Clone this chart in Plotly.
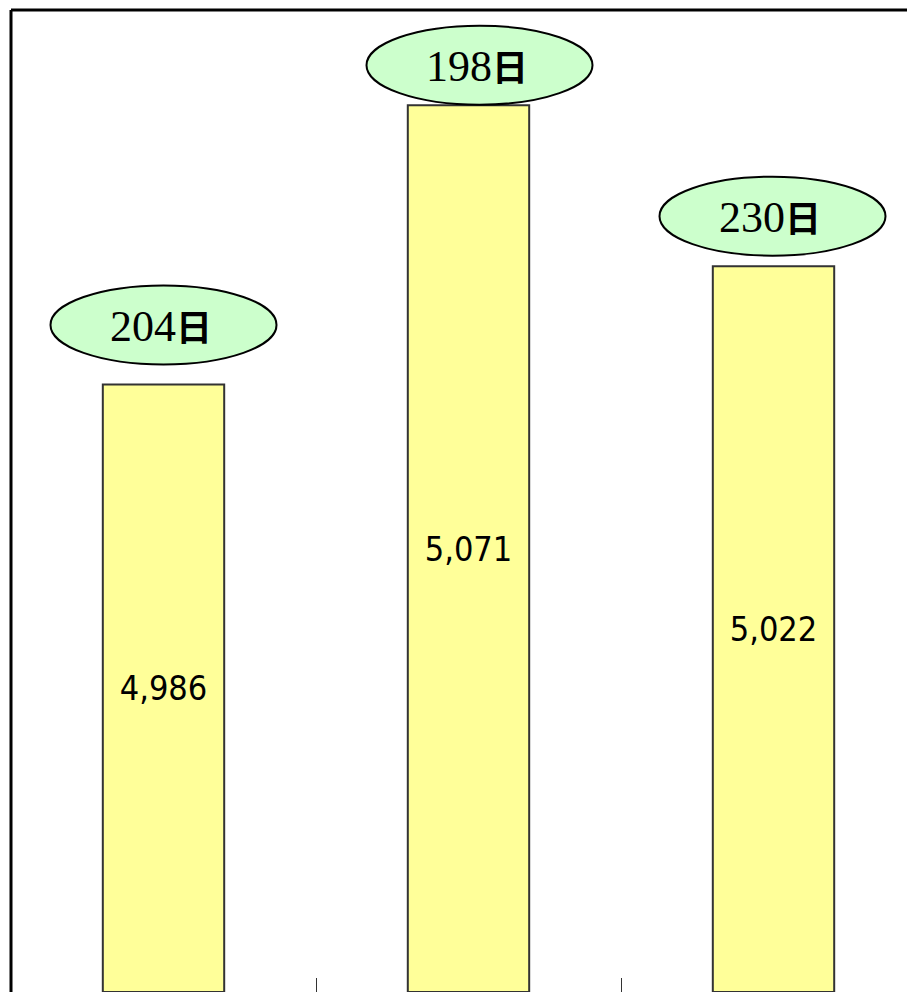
import plotly.graph_objects as go

# ---- data ----
categories = ["1", "2", "3"]
values = [4986, 5071, 5022]
value_labels = ["4,986", "5,071", "5,022"]
day_labels = ["204", "198", "230"]
day_suffix = "日"

# axis range of the visible value scale
y_min, y_max = 4801, 5100

# ---- style (ellipse placement in pixels relative to each bar top) ----
ell_dx = [0, 11, -1]
ell_dy = [59.5, 40, 50]
ell_w, ell_h = 226, 79

BODY = 8  # default page margin around the plot div
W, H = 915 - BODY, 992 - BODY
ML, MT = 11 - BODY, 10 - BODY
plot_w, plot_h = W - ML, H - MT
cat_px = 305.0
x_end = plot_w / cat_px - 0.5

fig = go.Figure()
fig.add_trace(go.Bar(
    x=list(range(len(categories))),
    y=[v - y_min for v in values],
    base=y_min,
    width=0.398,
    marker=dict(color="#FFFF99", line=dict(color="#333333", width=2)),
    text=value_labels,
    texttemplate="%{text}",
    textposition="inside",
    insidetextanchor="middle",
    textangle=0,
    insidetextfont=dict(family="DejaVu Sans Condensed, Liberation Sans Narrow, Liberation Sans", size=34, color="black"),
    hoverinfo="skip",
))

shapes = []
annotations = []
for i, (v, d) in enumerate(zip(values, day_labels)):
    shapes.append(dict(
        type="circle", xref="x", yref="y",
        xsizemode="pixel", ysizemode="pixel",
        xanchor=i, yanchor=v,
        x0=ell_dx[i] - ell_w / 2, x1=ell_dx[i] + ell_w / 2,
        y0=ell_dy[i] - ell_h / 2, y1=ell_dy[i] + ell_h / 2,
        fillcolor="#CCFFCC", line=dict(color="black", width=2),
        layer="above",
    ))
    annotations.append(dict(
        x=i, y=v, xref="x", yref="y",
        xshift=ell_dx[i] - 3, yshift=ell_dy[i],
        text=d + "<span style='font-family:Noto Sans CJK JP;font-weight:bold;font-size:36px'>" + day_suffix + "</span>",
        showarrow=False,
        font=dict(family="Liberation Serif, Times New Roman, serif", size=44, color="black"),
        xanchor="center", yanchor="middle",
    ))

# frame lines (left and top)
shapes.append(dict(type="line", xref="paper", yref="paper", x0=0, x1=0, y0=0, y1=1,
                   line=dict(color="black", width=3)))
shapes.append(dict(type="line", xref="paper", yref="paper", x0=0, x1=1, y0=1, y1=1,
                   line=dict(color="black", width=3)))

fig.update_layout(
    width=W, height=H,
    margin=dict(l=ML, r=0, t=MT, b=0, pad=0),
    paper_bgcolor="white", plot_bgcolor="white",
    showlegend=False,
    shapes=shapes,
    annotations=annotations,
    xaxis=dict(
        type="linear",
        range=[-0.5, x_end],
        tickvals=[0.5, 1.5],
        ticktext=["", ""],
        ticks="inside", ticklen=14, tickwidth=1, tickcolor="#333333",
        showgrid=False, zeroline=False, showline=False, showticklabels=False,
        fixedrange=True,
    ),
    yaxis=dict(
        range=[y_min, y_max],
        showgrid=False, zeroline=False, showline=False, showticklabels=False,
        ticks="", fixedrange=True,
    ),
)

fig.write_html("out.html")
